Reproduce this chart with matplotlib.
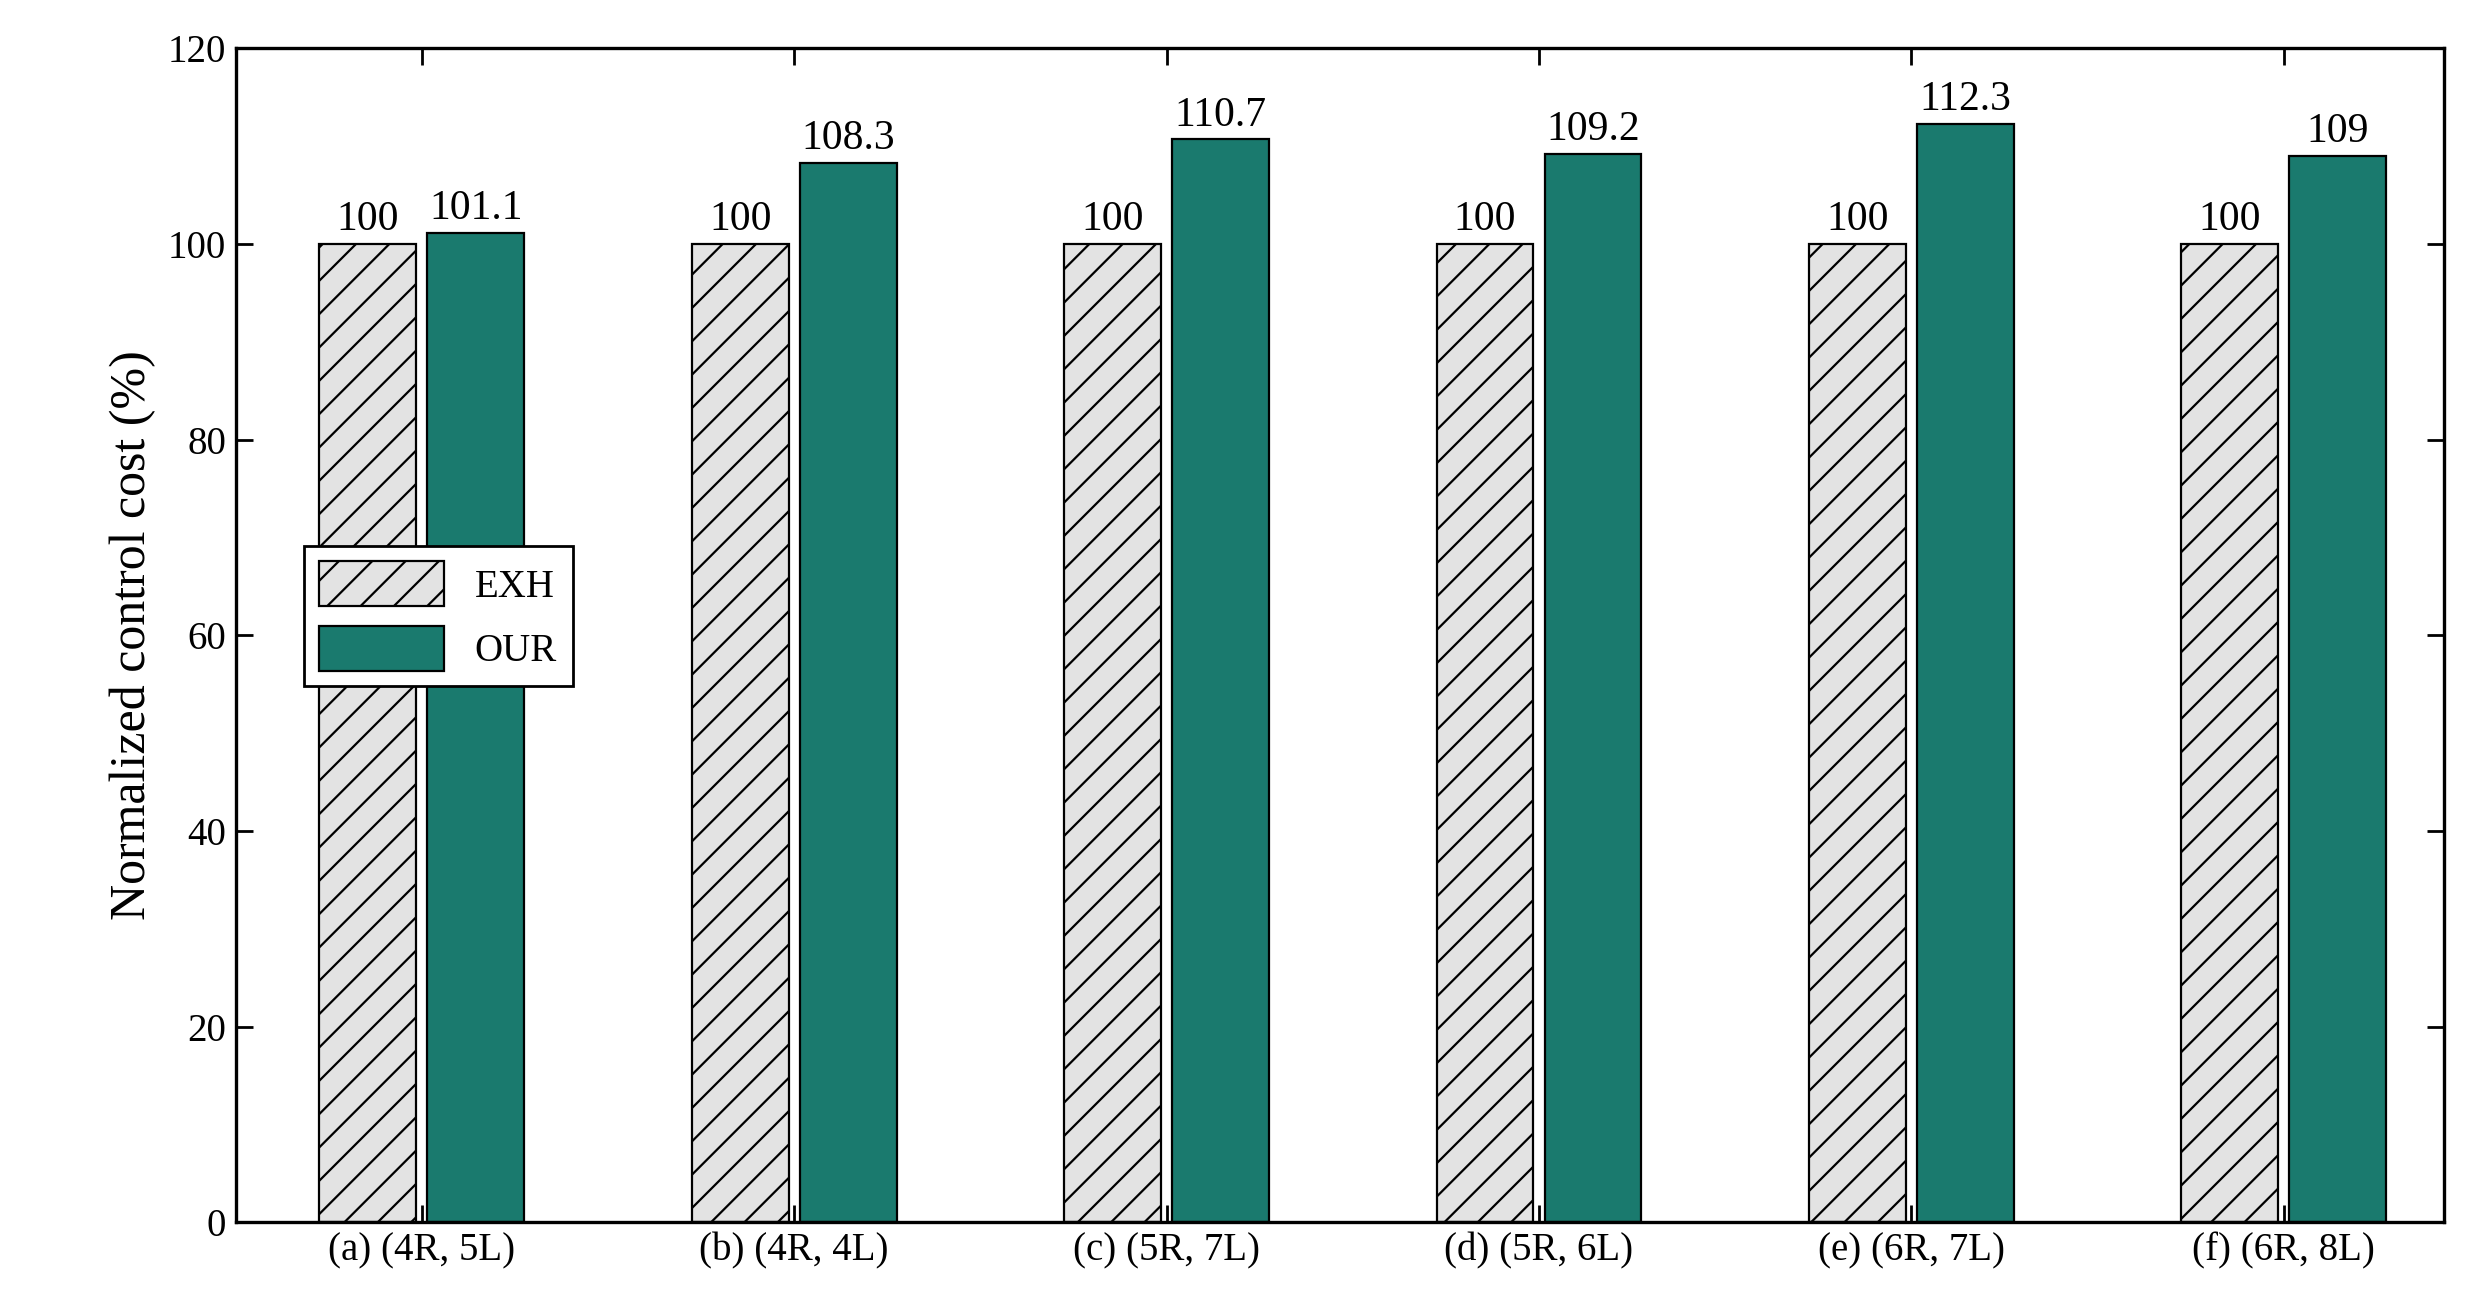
import matplotlib
matplotlib.use("Agg")
import matplotlib.pyplot as plt
import numpy as np

categories = ["(a) (4R, 5L)", "(b) (4R, 4L)", "(c) (5R, 7L)",
              "(d) (5R, 6L)", "(e) (6R, 7L)", "(f) (6R, 8L)"]
exh = [100, 100, 100, 100, 100, 100]
our = [101.1, 108.3, 110.7, 109.2, 112.3, 109]
exh_labels = ["100"] * 6
our_labels = ["101.1", "108.3", "110.7", "109.2", "112.3", "109"]

plt.rcParams["font.family"] = ["Liberation Serif", "DejaVu Serif"]
plt.rcParams["hatch.linewidth"] = 0.8

fig = plt.figure(figsize=(12.405, 6.55), dpi=200)
ax = fig.add_axes([0.095, 0.067, 0.89, 0.896])

x = np.arange(len(categories))
w = 0.26
off = 0.145
b1 = ax.bar(x - off, exh, w, color="#e3e3e3", edgecolor="black",
            linewidth=0.8, hatch="//", label="EXH")
b2 = ax.bar(x + off, our, w, color="#1a7a6e", edgecolor="black",
            linewidth=0.8, label="OUR")

for xi, v, s in zip(x - off, exh, exh_labels):
    ax.text(xi, v + 0.5, s, ha="center", va="bottom", fontsize=15)
for xi, v, s in zip(x + off, our, our_labels):
    ax.text(xi, v + 0.5, s, ha="center", va="bottom", fontsize=15)

ax.set_xlim(-0.5, 5.43)
ax.set_ylim(0, 120)
ax.set_yticks(np.arange(0, 121, 20))
ax.set_xticks(x)
ax.set_xticklabels(categories)
ax.set_ylabel("Normalized control cost (%)", fontsize=18)
ax.tick_params(axis="both", direction="in", labelsize=14, top=True, right=True,
               length=6, width=1)
for sp in ax.spines.values():
    sp.set_linewidth(1.2)

ax.legend(loc="lower left", bbox_to_anchor=(0.022, 0.44), fontsize=14,
          fancybox=False, edgecolor="black", framealpha=1,
          handlelength=3.2, handleheight=1.4, borderpad=0.4)

fig.savefig("out.png", dpi=200)
